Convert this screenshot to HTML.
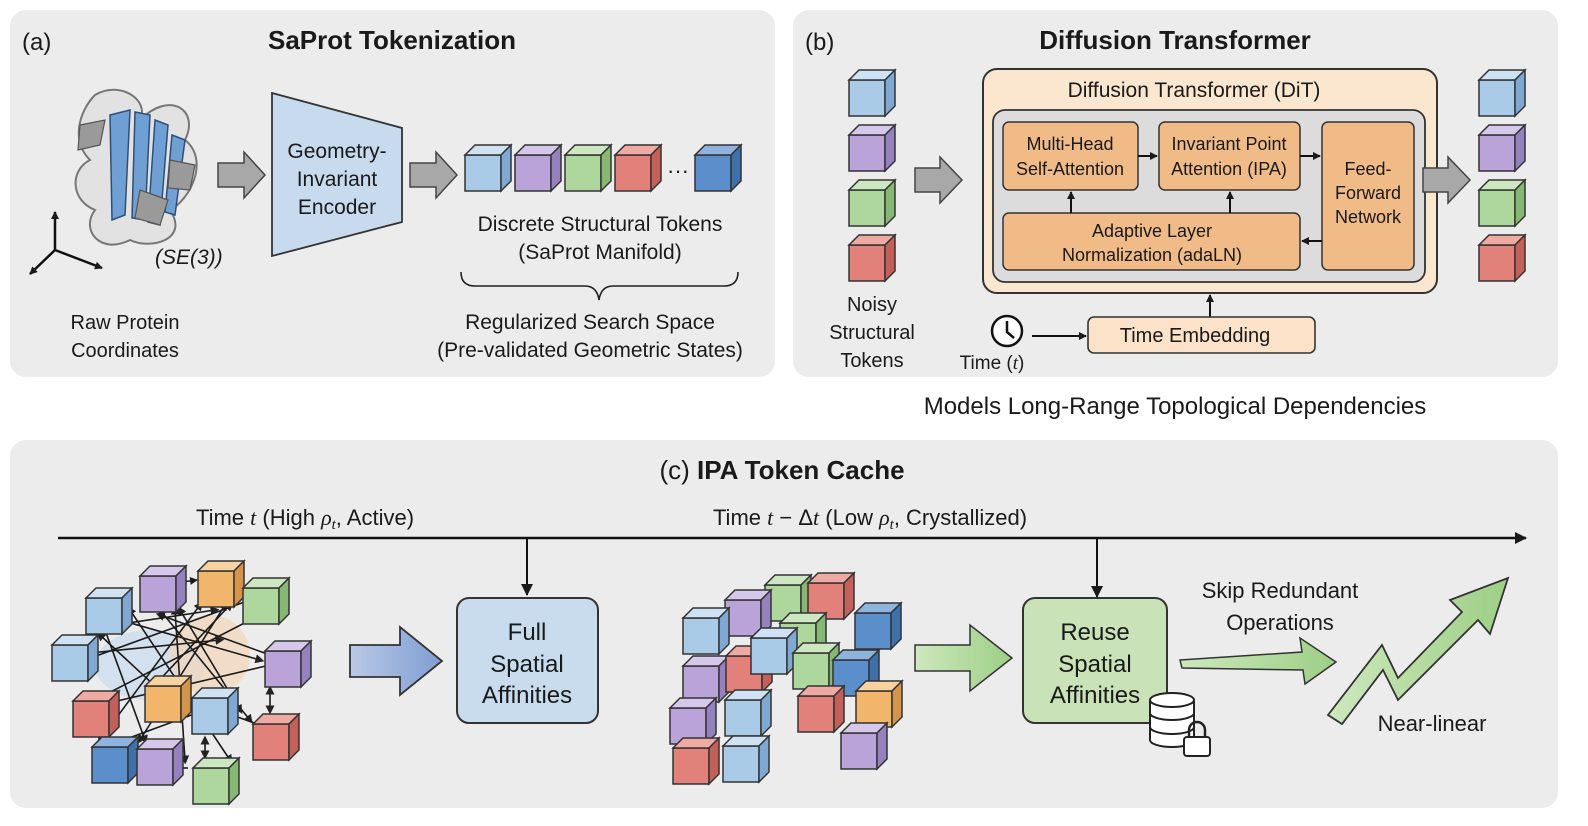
<!DOCTYPE html>
<html><head><meta charset="utf-8"><style>
html,body{margin:0;padding:0;background:#fff}
svg{display:block}
text{font-family:"Liberation Sans",sans-serif;fill:#1a1a1a}
</style></head><body>
<svg width="1588" height="826" viewBox="0 0 1588 826" xmlns="http://www.w3.org/2000/svg">
<defs>
<marker id="ah" markerWidth="8" markerHeight="8" refX="7" refY="4" orient="auto" markerUnits="userSpaceOnUse"><path d="M0,0 L8,4 L0,8 z" fill="#1a1a1a"/></marker>
<marker id="ahs" markerWidth="12" markerHeight="12" refX="11" refY="6" orient="auto" markerUnits="userSpaceOnUse"><path d="M0,0 L12,6 L0,12 z" fill="#1a1a1a"/></marker>
<marker id="ahb" markerWidth="9" markerHeight="9" refX="4.5" refY="4.5" orient="auto-start-reverse" markerUnits="userSpaceOnUse"><path d="M0,0 L9,4.5 L0,9 z" fill="#222"/></marker>
<g id="cb"><rect x="0" y="10" width="36" height="36" fill="#a9cbe8" stroke="#333" stroke-width="1.5"/><path d="M0,10 L10,0 L46,0 L36,10 z" fill="#cfe2f3" stroke="#333" stroke-width="1.5"/><path d="M36,10 L46,0 L46,36 L36,46 z" fill="#7fa9d3" stroke="#333" stroke-width="1.5"/></g>
<g id="cp"><rect x="0" y="10" width="36" height="36" fill="#b9a3d8" stroke="#333" stroke-width="1.5"/><path d="M0,10 L10,0 L46,0 L36,10 z" fill="#d6c8ea" stroke="#333" stroke-width="1.5"/><path d="M36,10 L46,0 L46,36 L36,46 z" fill="#9581bd" stroke="#333" stroke-width="1.5"/></g>
<g id="cg"><rect x="0" y="10" width="36" height="36" fill="#aed79d" stroke="#333" stroke-width="1.5"/><path d="M0,10 L10,0 L46,0 L36,10 z" fill="#cde8c0" stroke="#333" stroke-width="1.5"/><path d="M36,10 L46,0 L46,36 L36,46 z" fill="#86b874" stroke="#333" stroke-width="1.5"/></g>
<g id="cr"><rect x="0" y="10" width="36" height="36" fill="#e2817a" stroke="#333" stroke-width="1.5"/><path d="M0,10 L10,0 L46,0 L36,10 z" fill="#efaaa4" stroke="#333" stroke-width="1.5"/><path d="M36,10 L46,0 L46,36 L36,46 z" fill="#c4605a" stroke="#333" stroke-width="1.5"/></g>
<g id="cd"><rect x="0" y="10" width="36" height="36" fill="#5a8fcb" stroke="#333" stroke-width="1.5"/><path d="M0,10 L10,0 L46,0 L36,10 z" fill="#8db3de" stroke="#333" stroke-width="1.5"/><path d="M36,10 L46,0 L46,36 L36,46 z" fill="#3f70aa" stroke="#333" stroke-width="1.5"/></g>
<g id="co"><rect x="0" y="10" width="36" height="36" fill="#f1b56c" stroke="#333" stroke-width="1.5"/><path d="M0,10 L10,0 L46,0 L36,10 z" fill="#f8d3a2" stroke="#333" stroke-width="1.5"/><path d="M36,10 L46,0 L46,36 L36,46 z" fill="#d4944a" stroke="#333" stroke-width="1.5"/></g>
<linearGradient id="gb" x1="0" x2="1"><stop offset="0" stop-color="#b9c9e6"/><stop offset="1" stop-color="#7f9dd3"/></linearGradient>
<linearGradient id="gg" x1="0" x2="1"><stop offset="0" stop-color="#cde8bd"/><stop offset="1" stop-color="#9dcf86"/></linearGradient>
</defs>

<!-- Panels -->
<rect x="10" y="10" width="765" height="367" rx="16" fill="#ececec"/>
<rect x="793" y="10" width="765" height="367" rx="16" fill="#ececec"/>
<rect x="10" y="440" width="1548" height="368" rx="16" fill="#ececec"/>

<!-- Panel a -->
<text x="22" y="50" font-size="24">(a)</text>
<text x="392" y="49" font-size="26" font-weight="bold" text-anchor="middle">SaProt Tokenization</text>
<path d="M95,95 C120,80 150,100 140,120 C170,90 200,110 185,140 C210,160 190,200 170,210 C190,240 150,250 130,240 C100,255 80,230 95,210 C70,200 70,170 90,160 C70,140 80,110 95,95 z" fill="#e2e2e2" stroke="#777" stroke-width="2"/>
<g fill="#6f9fd3" stroke="#2d4f7a" stroke-width="1.5">
<path d="M110,115 L130,110 L125,215 L112,220 z"/><path d="M135,112 L150,115 L145,220 L132,218 z"/><path d="M155,120 L168,125 L160,225 L148,222 z"/><path d="M172,135 L185,140 L175,215 L165,212 z"/>
</g>
<g fill="#9a9a9a" stroke="#555" stroke-width="1.2"><path d="M80,125 L105,120 L100,145 L78,150 z"/><path d="M170,160 L195,165 L190,190 L168,188 z"/><path d="M140,190 L168,200 L160,225 L135,218 z"/></g>
<g stroke="#111" stroke-width="2.5"><line x1="55" y1="250" x2="55" y2="212" marker-end="url(#ah)"/><line x1="55" y1="250" x2="30" y2="274" marker-end="url(#ah)"/><line x1="55" y1="250" x2="102" y2="268" marker-end="url(#ah)"/></g>
<text x="155" y="264" font-size="21" font-family="Liberation Serif" font-style="italic">(SE(3))</text>
<text x="125" y="329" font-size="20" text-anchor="middle">Raw Protein</text>
<text x="125" y="357" font-size="20" text-anchor="middle">Coordinates</text>
<path d="M218,163 L244,163 L244,152 L265,175 L244,198 L244,187 L218,187 z" fill="#a8a8a8" stroke="#444" stroke-width="1.5"/>
<path d="M272,93 L402,128 L402,222 L272,256 z" fill="#c8daee" stroke="#333" stroke-width="1.8"/>
<text x="337" y="158" font-size="21" text-anchor="middle">Geometry-</text>
<text x="337" y="186" font-size="21" text-anchor="middle">Invariant</text>
<text x="337" y="214" font-size="21" text-anchor="middle">Encoder</text>
<path d="M410,163 L436,163 L436,152 L457,175 L436,198 L436,187 L410,187 z" fill="#a8a8a8" stroke="#444" stroke-width="1.5"/>
<use href="#cb" x="465" y="145"/><use href="#cp" x="515" y="145"/><use href="#cg" x="565" y="145"/><use href="#cr" x="615" y="145"/><use href="#cd" x="695" y="145"/>
<text x="678" y="178" font-size="22" text-anchor="middle">···</text>
<text x="600" y="231" font-size="21" text-anchor="middle">Discrete Structural Tokens</text>
<text x="600" y="259" font-size="21" text-anchor="middle">(SaProt Manifold)</text>
<path d="M461,272 Q461,286 475,286 L585,286 Q597,286 599,300 Q601,286 613,286 L724,286 Q738,286 738,272" fill="none" stroke="#222" stroke-width="1.6"/>
<text x="590" y="329" font-size="21" text-anchor="middle">Regularized Search Space</text>
<text x="590" y="357" font-size="21" text-anchor="middle">(Pre-validated Geometric States)</text>

<!-- Panel b -->
<text x="805" y="50" font-size="24">(b)</text>
<text x="1175" y="49" font-size="26" font-weight="bold" text-anchor="middle">Diffusion Transformer</text>
<use href="#cb" x="849" y="70"/><use href="#cp" x="849" y="125"/><use href="#cg" x="849" y="180"/><use href="#cr" x="849" y="235"/>
<text x="872" y="311" font-size="20" text-anchor="middle">Noisy</text>
<text x="872" y="339" font-size="20" text-anchor="middle">Structural</text>
<text x="872" y="367" font-size="20" text-anchor="middle">Tokens</text>
<path d="M915,168 L940,168 L940,157 L962,180 L940,203 L940,192 L915,192 z" fill="#a8a8a8" stroke="#444" stroke-width="1.5"/>
<rect x="983" y="69" width="454" height="224" rx="14" fill="#fbe6cf" stroke="#333" stroke-width="2"/>
<text x="1194" y="97" font-size="21" text-anchor="middle">Diffusion Transformer (DiT)</text>
<rect x="993" y="110" width="432" height="172" rx="12" fill="#dcdcdc" stroke="#333" stroke-width="1.8"/>
<rect x="1003" y="122" width="135" height="68" rx="6" fill="#f1bb87" stroke="#333" stroke-width="1.5"/>
<text x="1070" y="150" font-size="18" text-anchor="middle">Multi-Head</text>
<text x="1070" y="175" font-size="18" text-anchor="middle">Self-Attention</text>
<rect x="1159" y="122" width="141" height="68" rx="6" fill="#f1bb87" stroke="#333" stroke-width="1.5"/>
<text x="1229" y="150" font-size="18" text-anchor="middle">Invariant Point</text>
<text x="1229" y="175" font-size="18" text-anchor="middle">Attention (IPA)</text>
<rect x="1322" y="122" width="92" height="148" rx="6" fill="#f1bb87" stroke="#333" stroke-width="1.5"/>
<text x="1368" y="175" font-size="18" text-anchor="middle">Feed-</text>
<text x="1368" y="199" font-size="18" text-anchor="middle">Forward</text>
<text x="1368" y="223" font-size="18" text-anchor="middle">Network</text>
<rect x="1003" y="213" width="297" height="57" rx="6" fill="#f1bb87" stroke="#333" stroke-width="1.5"/>
<text x="1152" y="237" font-size="18" text-anchor="middle">Adaptive Layer</text>
<text x="1152" y="261" font-size="18" text-anchor="middle">Normalization (adaLN)</text>
<g stroke="#111" stroke-width="2"><line x1="1138" y1="156" x2="1157" y2="156" marker-end="url(#ah)"/><line x1="1300" y1="156" x2="1320" y2="156" marker-end="url(#ah)"/><line x1="1322" y1="241" x2="1302" y2="241" marker-end="url(#ah)"/><line x1="1071" y1="213" x2="1071" y2="192" marker-end="url(#ah)"/><line x1="1230" y1="213" x2="1230" y2="192" marker-end="url(#ah)"/><line x1="1210" y1="317" x2="1210" y2="295" marker-end="url(#ah)"/><line x1="1032" y1="336" x2="1086" y2="336" marker-end="url(#ah)"/></g>
<rect x="1088" y="317" width="227" height="36" rx="6" fill="#fbe2c8" stroke="#333" stroke-width="1.6"/>
<text x="1195" y="342" font-size="20" text-anchor="middle">Time Embedding</text>
<circle cx="1007" cy="331" r="15" fill="#fff" stroke="#111" stroke-width="2.5"/>
<path d="M1007,321 L1007,332 L1014,338" fill="none" stroke="#111" stroke-width="2.5"/>
<text x="992" y="369" font-size="19" text-anchor="middle">Time (<tspan font-family="Liberation Serif" font-style="italic">t</tspan>)</text>
<path d="M1423,168 L1448,168 L1448,157 L1470,180 L1448,203 L1448,192 L1423,192 z" fill="#a8a8a8" stroke="#444" stroke-width="1.5"/>
<use href="#cb" x="1479" y="70"/><use href="#cp" x="1479" y="125"/><use href="#cg" x="1479" y="180"/><use href="#cr" x="1479" y="235"/>
<text x="1175" y="414" font-size="24" text-anchor="middle">Models Long-Range Topological Dependencies</text>

<!-- Panel c -->
<text x="782" y="479" font-size="26" text-anchor="middle">(c) <tspan font-weight="bold">IPA Token Cache</tspan></text>
<text x="305" y="525" font-size="22" text-anchor="middle">Time <tspan font-family="Liberation Serif" font-style="italic">t</tspan> (High <tspan font-family="Liberation Serif" font-style="italic">ρ<tspan font-size="15" dy="4">t</tspan></tspan><tspan dy="-4">, Active)</tspan></text>
<text x="870" y="525" font-size="22" text-anchor="middle">Time <tspan font-family="Liberation Serif" font-style="italic">t</tspan> − Δ<tspan font-family="Liberation Serif" font-style="italic">t</tspan> (Low <tspan font-family="Liberation Serif" font-style="italic">ρ<tspan font-size="15" dy="4">t</tspan></tspan><tspan dy="-4">, Crystallized)</tspan></text>
<line x1="58" y1="538" x2="1526" y2="538" stroke="#111" stroke-width="2.5" marker-end="url(#ahs)"/>
<g stroke="#111" stroke-width="2"><line x1="527" y1="538" x2="527" y2="595" marker-end="url(#ahs)"/><line x1="1097" y1="538" x2="1097" y2="597" marker-end="url(#ahs)"/></g>

<!-- left cluster -->
<ellipse cx="150" cy="665" rx="55" ry="35" fill="#c9dcee" opacity="0.7"/>
<ellipse cx="210" cy="655" rx="40" ry="40" fill="#f4d6b8" opacity="0.7"/>
<g stroke="#1a1a1a" stroke-width="1.6" marker-end="url(#ahb)" marker-start="url(#ahb)" fill="none">
<line x1="120" y1="620" x2="260" y2="660"/><line x1="70" y1="655" x2="220" y2="640"/><line x1="160" y1="610" x2="250" y2="720"/>
<line x1="200" y1="605" x2="100" y2="740"/><line x1="225" y1="605" x2="140" y2="740"/><line x1="260" y1="615" x2="95" y2="700"/>
<line x1="105" y1="630" x2="145" y2="740"/><line x1="175" y1="610" x2="185" y2="760"/><line x1="160" y1="615" x2="270" y2="655"/>
<line x1="100" y1="705" x2="270" y2="665"/><line x1="190" y1="700" x2="260" y2="725"/><line x1="150" y1="690" x2="230" y2="605"/>
<line x1="205" y1="710" x2="110" y2="745"/><line x1="240" y1="710" x2="180" y2="610"/><line x1="130" y1="610" x2="230" y2="760"/>
<line x1="115" y1="625" x2="215" y2="610"/><line x1="270" y1="690" x2="270" y2="710"/><line x1="205" y1="740" x2="205" y2="755"/>
<line x1="85" y1="660" x2="250" y2="600"/><line x1="170" y1="700" x2="100" y2="635"/>
</g>
<g stroke="#1a1a1a" stroke-width="1.6"><line x1="182" y1="582" x2="197" y2="580" marker-end="url(#ah)"/><line x1="188" y1="768" x2="173" y2="768" marker-end="url(#ah)"/></g>
<g transform="translate(0,0)">
<use href="#cb" x="86" y="588" transform="scale(1)"/>
</g>
<g>
<use href="#cp" x="140" y="566"/><use href="#co" x="198" y="561"/><use href="#cg" x="243" y="578"/>
<use href="#cb" x="52" y="635"/><use href="#cp" x="265" y="641"/><use href="#cr" x="73" y="691"/><use href="#co" x="145" y="676"/>
<use href="#cb" x="192" y="688"/><use href="#cr" x="253" y="714"/><use href="#cd" x="92" y="737"/><use href="#cp" x="137" y="739"/><use href="#cg" x="193" y="758"/>
</g>
<path d="M350,645 L400,645 L400,627 L442,661 L400,695 L400,677 L350,677 z" fill="url(#gb)" stroke="#333" stroke-width="1.8"/>
<rect x="457" y="598" width="141" height="125" rx="12" fill="#c8dcee" stroke="#333" stroke-width="2"/>
<text x="527" y="640" font-size="24" text-anchor="middle">Full</text>
<text x="527" y="672" font-size="24" text-anchor="middle">Spatial</text>
<text x="527" y="703" font-size="24" text-anchor="middle">Affinities</text>

<!-- middle cluster -->
<use href="#cg" x="765" y="575"/><use href="#cr" x="808" y="573"/><use href="#cp" x="725" y="590"/><use href="#cb" x="683" y="608"/><use href="#cg" x="780" y="613"/>
<use href="#cd" x="855" y="603"/><use href="#cp" x="683" y="656"/><use href="#cr" x="726" y="646"/><use href="#cb" x="751" y="628"/><use href="#cg" x="793" y="643"/><use href="#cd" x="833" y="650"/>
<use href="#cp" x="670" y="698"/><use href="#cb" x="725" y="690"/><use href="#cr" x="798" y="686"/><use href="#co" x="856" y="681"/><use href="#cr" x="673" y="738"/><use href="#cb" x="723" y="736"/><use href="#cp" x="841" y="723"/>
<path d="M915,645 L970,645 L970,625 L1012,658 L970,691 L970,671 L915,671 z" fill="url(#gg)" stroke="#333" stroke-width="1.5"/>
<rect x="1023" y="598" width="144" height="125" rx="12" fill="#c9e2b8" stroke="#333" stroke-width="2"/>
<text x="1095" y="640" font-size="24" text-anchor="middle">Reuse</text>
<text x="1095" y="672" font-size="24" text-anchor="middle">Spatial</text>
<text x="1095" y="703" font-size="24" text-anchor="middle">Affinities</text>
<g stroke="#222" stroke-width="2" fill="#fff">
<path d="M1150,700 L1150,740 A22,7 0 0 0 1194,740 L1194,700"/><ellipse cx="1172" cy="700" rx="22" ry="7"/>
<path d="M1150,713 A22,7 0 0 0 1194,713 M1150,727 A22,7 0 0 0 1194,727" fill="none"/>
<path d="M1189,737 L1189,730 A8,8 0 0 1 1205,730 L1205,737" fill="none" stroke-width="2.5"/><rect x="1184" y="737" width="26" height="19" rx="3" fill="#fff"/>
</g>
<path d="M1180,660 L1302,652 L1300,638 L1336,662 L1305,684 L1303,670 L1182,668 z" fill="url(#gg)" stroke="#333" stroke-width="1.5"/>
<text x="1280" y="598" font-size="22" text-anchor="middle">Skip Redundant</text>
<text x="1280" y="630" font-size="22" text-anchor="middle">Operations</text>
<path d="M1328,715 L1382,645 L1398,678 L1462,612 L1450,600 L1508,578 L1490,634 L1478,620 L1398,700 L1383,670 L1342,724 z" fill="url(#gg)" stroke="#333" stroke-width="1.8"/>
<text x="1432" y="731" font-size="22" text-anchor="middle">Near-linear</text>
</svg>
</body></html>
